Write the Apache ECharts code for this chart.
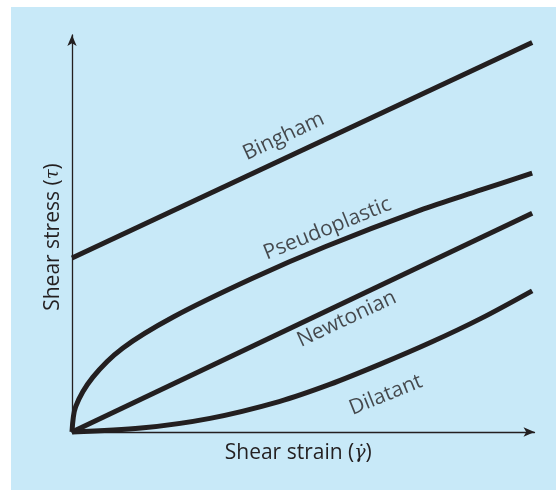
<!DOCTYPE html>
<html><head><meta charset="utf-8">
<script src="https://cdn.jsdelivr.net/npm/echarts@6/dist/echarts.min.js"></script>
<style>html,body{margin:0;padding:0;background:#fff}#c{width:556px;height:490px}</style>
</head><body><div id="c"></div>
<script>
// Shear stress vs shear strain for four fluid types (conceptual, unitless)
const binghamX = [0, 10];
const binghamY = [4.46, 9.99];
const newtonianX = [0, 10];
const newtonianY = [0, 5.61];
const pseudoX = [0, 0.08, 0.45, 1.1, 2.2, 3.9, 5.5, 7.57, 8.87, 10];
const pseudoY = [0, 0.65, 1.4, 2.15, 2.95, 3.93, 4.75, 5.69, 6.2, 6.64];
const dilatantX = [0, 1.5, 3.0, 4.5, 5.6, 6.7, 7.8, 8.9, 10];
const dilatantY = [0, 0.1, 0.35, 0.78, 1.22, 1.74, 2.3, 2.92, 3.62];
const labelNames = ['Bingham', 'Pseudoplastic', 'Newtonian', 'Dilatant'];
const labelX = [4.60, 5.55, 5.97, 6.82];
const labelY = [7.58, 5.21, 2.90, 0.95];
const labelAngle = [25, 22, 25, 22];
const xTitle = 'Shear strain (';
const yTitle = 'Shear stress (';

const INK = '#231f20';
const FONT = 'Open Sans';
const FS = 21;
const zip = (xs, ys) => xs.map((x, i) => [x, ys[i]]);

const chart = echarts.init(document.getElementById('c'), null, {renderer: 'canvas'});
const lineSeries = (name, xs, ys, smooth) => ({
  type: 'line', name, data: zip(xs, ys), showSymbol: false, symbol: 'none',
  smooth: smooth, clip: false,
  lineStyle: {color: INK, width: 5}, silent: true
});
chart.setOption({
  animation: false,
  backgroundColor: '#ffffff',
  graphic: [{type: 'rect', z: -10, shape: {x: 11, y: 7, width: 545, height: 483}, style: {fill: '#c8e9f8'}}],
  grid: {left: 72, right: 21.5, top: 35, bottom: 58},
  xAxis: {
    type: 'value', min: 0, max: 10.05,
    name: '{a|' + xTitle + '}{i|γ̇}{a|)}', nameLocation: 'middle', nameGap: 11,
    nameTextStyle: {padding: [0, 10, 0, 0], rich: {
      a: {fontFamily: FONT, fontSize: FS, color: INK},
      i: {fontFamily: 'DejaVu Serif', fontStyle: 'italic', fontSize: 19, color: INK}}},
    axisLine: {lineStyle: {color: INK, width: 1.3}, symbol: ['none', 'arrow'], symbolSize: [7, 11]},
    axisTick: {show: false}, axisLabel: {show: false}, splitLine: {show: false}
  },
  yAxis: {
    type: 'value', min: 0, max: 10.18,
    name: '{a|' + yTitle + '}{i|τ}{a|)}', nameLocation: 'middle', nameGap: 8,
    nameTextStyle: {padding: [0, 7, 0, 0], rich: {
      a: {fontFamily: FONT, fontSize: FS, color: INK},
      i: {fontFamily: 'DejaVu Serif', fontStyle: 'italic', fontSize: 18, color: INK}}},
    axisLine: {lineStyle: {color: INK, width: 1.3}, symbol: ['none', 'arrow'], symbolSize: [7, 11]},
    axisTick: {show: false}, axisLabel: {show: false}, splitLine: {show: false}
  },
  series: [
    lineSeries('Bingham', binghamX, binghamY, false),
    lineSeries('Pseudoplastic', pseudoX, pseudoY, 0.3),
    lineSeries('Newtonian', newtonianX, newtonianY, false),
    lineSeries('Dilatant', dilatantX, dilatantY, 0.3),
    {
      type: 'scatter', symbolSize: 0, silent: true,
      data: labelNames.map((n, i) => ({
        name: n, value: [labelX[i], labelY[i]],
        label: {rotate: labelAngle[i]}
      })),
      label: {show: true, position: 'inside', formatter: p => p.name,
        fontFamily: FONT, fontSize: FS, color: INK, align: 'center', verticalAlign: 'middle'}
    }
  ]
});
</script></body></html>
